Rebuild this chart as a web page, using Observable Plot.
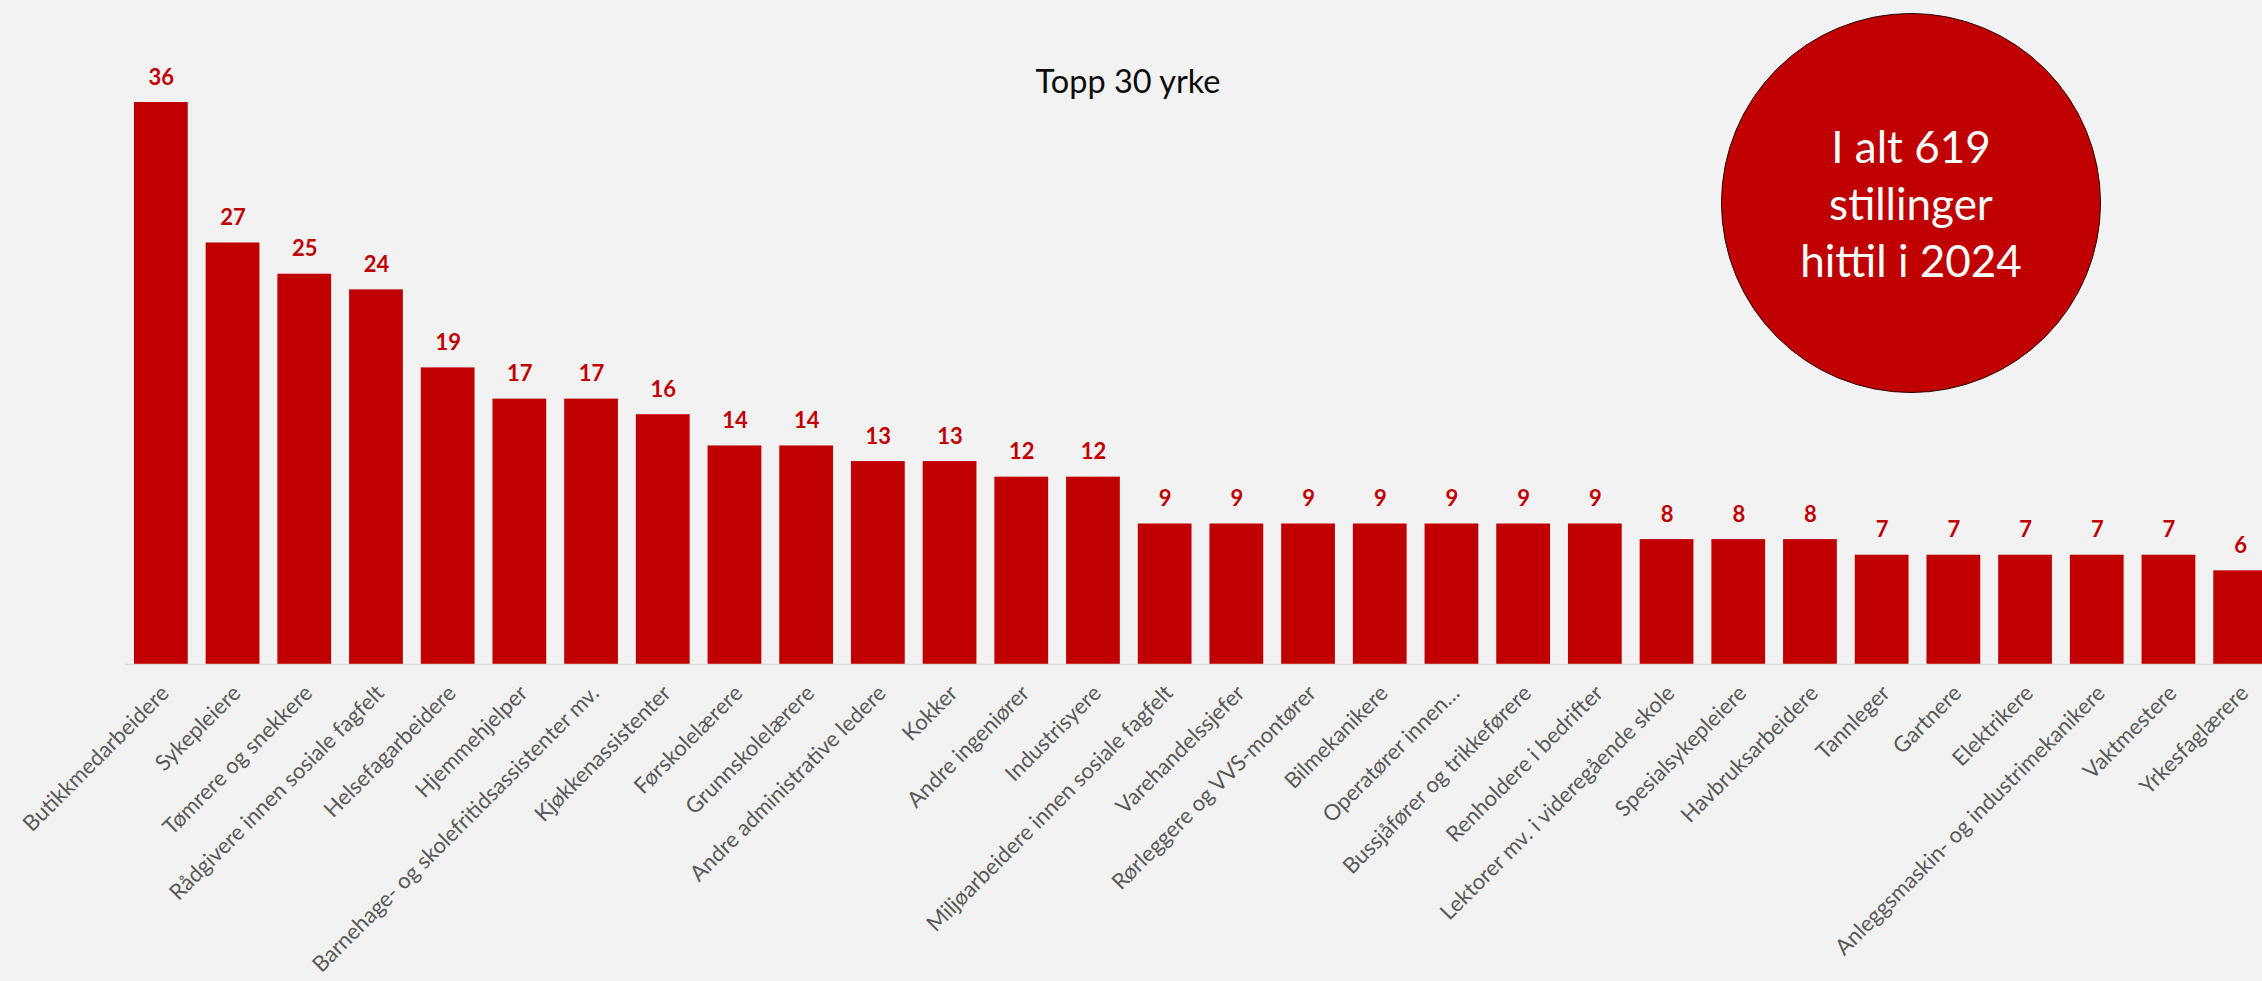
<!DOCTYPE html>
<html>
<head>
<meta charset="utf-8">
<script src="https://cdn.jsdelivr.net/npm/d3@7"></script>
<script src="https://cdn.jsdelivr.net/npm/@observablehq/plot@0.6"></script>
<style>
  html, body { margin: 0; padding: 0; background: #f2f2f2; overflow: hidden; }
  #wrap { position: relative; width: 2262px; height: 981px; overflow: hidden; font-family: Lato, "Open Sans", sans-serif; }
  #title { position: absolute; left: 0; top: 65px; width: 2256px; text-align: center; font-size: 32.5px; line-height: 1; color: #0d0d0d; }
  #badge { position: absolute; left: 1721px; top: 13px; width: 380px; height: 380px; box-sizing: border-box;
           border-radius: 50%; background: #c00000; border: 1.5px solid #2b0000; color: #fff;
           display: flex; align-items: center; justify-content: center; text-align: center;
           font-size: 44px; line-height: 57px; }
</style>
</head>
<body>
<div id="wrap">
  <div id="chart"></div>
  <div id="title"></div>
  <div id="badge"></div>
</div>
<script>
const titleText = "Topp 30 yrke";
const totalCount = 619;
const badgeLines = [`I alt ${totalCount}`, "stillinger", "hittil i 2024"];

const occupations = [
  "Butikkmedarbeidere",
  "Sykepleiere",
  "Tømrere og snekkere",
  "Rådgivere innen sosiale fagfelt",
  "Helsefagarbeidere",
  "Hjemmehjelper",
  "Barnehage- og skolefritidsassistenter mv.",
  "Kjøkkenassistenter",
  "Førskolelærere",
  "Grunnskolelærere",
  "Andre administrative ledere",
  "Kokker",
  "Andre ingeniører",
  "Industrisyere",
  "Miljøarbeidere innen sosiale fagfelt",
  "Varehandelssjefer",
  "Rørleggere og VVS-montører",
  "Bilmekanikere",
  "Operatører innen…",
  "Bussjåfører og trikkeførere",
  "Renholdere i bedrifter",
  "Lektorer mv. i videregående skole",
  "Spesialsykepleiere",
  "Havbruksarbeidere",
  "Tannleger",
  "Gartnere",
  "Elektrikere",
  "Anleggsmaskin- og industrimekanikere",
  "Vaktmestere",
  "Yrkesfaglærere"
];
const counts = [36, 27, 25, 24, 19, 17, 17, 16, 14, 14, 13, 13, 12, 12, 9, 9, 9, 9, 9, 9, 9, 8, 8, 8, 7, 7, 7, 7, 7, 6];

const data = occupations.map((name, i) => ({name, value: counts[i]}));

const chart = Plot.plot({
  width: 2276,
  height: 981,
  marginTop: 102,
  marginBottom: 317,
  marginLeft: 125,
  marginRight: 0,
  style: {background: "transparent", maxWidth: "none", fontFamily: "Lato, 'Open Sans', sans-serif", overflow: "visible"},
  x: {domain: occupations, paddingInner: 0.25, paddingOuter: 0.125, round: false, label: null},
  y: {domain: [0, 36], axis: null},
  marks: [
    Plot.barY(data, {x: "name", y: "value", fill: "#c00000"}),
    Plot.ruleY([0], {stroke: "#d9d9d9", strokeWidth: 1.5}),
    Plot.text(data, {x: "name", y: "value", text: d => String(d.value), dy: -25, lineAnchor: "middle",
      fill: "#c00000", fontWeight: "bold", fontSize: 22}),
    Plot.axisX({tickRotate: -45, tickSize: 0, tickPadding: 25, fontSize: 22, fill: "#595959", label: null, dx: 4})
  ]
});
document.getElementById("chart").appendChild(chart);
document.getElementById("title").textContent = titleText;
const badge = document.getElementById("badge");
const inner = document.createElement("div");
badgeLines.forEach(l => { const d = document.createElement("div"); d.textContent = l; inner.appendChild(d); });
badge.appendChild(inner);
</script>
</body>
</html>
